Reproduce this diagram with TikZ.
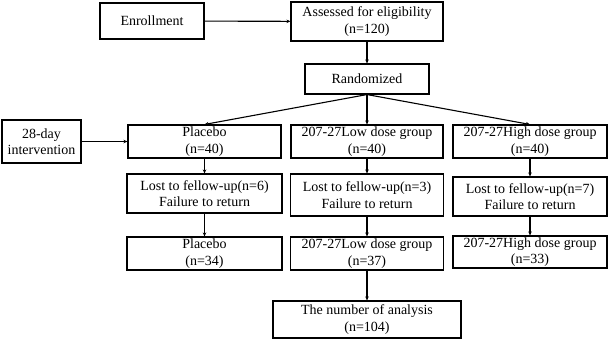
\documentclass[tikz,border=0pt]{standalone}
\usepackage{fontspec}
\setmainfont{Liberation Serif}
\usetikzlibrary{arrows.meta}
\tikzset{
  box/.style={draw, line width=1.1pt, align=center, inner sep=1pt, font=\fontsize{14}{16.5}\selectfont},
  arr/.style={-{Stealth[length=4pt,width=3.5pt]}, line width=1.1pt}
}
\begin{document}
\begin{tikzpicture}[x=1pt,y=-1pt]
        \useasboundingbox (0,0) rectangle (609,340);
        \node[box, minimum width=104pt, minimum height=36pt] (enroll) at (152,21) {Enrollment};
        \node[box, minimum width=152pt, minimum height=39pt] (assess) at (367,21.5) {Assessed for eligibility\\(n=120)};
        \node[box, minimum width=124pt, minimum height=30pt] (rand) at (367,79) {Randomized};
        \node[box, minimum width=79pt, minimum height=43pt] (day) at (41.5,141.5) {28-day\\intervention};
        \node[box, minimum width=153pt, minimum height=33pt] (plac) at (204.5,141.5) {Placebo\\(n=40)};
        \node[box, minimum width=152pt, minimum height=33pt] (low) at (367,141.5) {207-27Low dose group\\(n=40)};
        \node[box, minimum width=154pt, minimum height=33pt] (high) at (530,141.5) {207-27High dose group\\(n=40)};
        \node[box, minimum width=155pt, minimum height=39pt] (lostp) at (204.5,193.5) {Lost to fellow-up(n=6)\\Failure to return};
        \node[box, minimum width=153pt, minimum height=42pt] (lostl) at (367,195) {Lost to fellow-up(n=3)\\Failure to return};
        \node[box, minimum width=154pt, minimum height=39pt] (losth) at (530,196.5) {Lost to fellow-up(n=7)\\Failure to return};
        \node[box, minimum width=155pt, minimum height=33pt] (finp) at (204.5,253.5) {Placebo\\(n=34)};
        \node[box, minimum width=153pt, minimum height=33pt] (finl) at (367,253.5) {207-27Low dose group\\(n=37)};
        \node[box, minimum width=154pt, minimum height=32pt] (finh) at (530,252) {207-27High dose group\\(n=33)};
        \node[box, minimum width=188pt, minimum height=37pt] (ana) at (367,319.5) {The number of analysis\\(n=104)};

        \draw[arr] (enroll) -- (assess);
        \draw[arr] (assess) -- (rand);
        \draw[arr] (rand.south) -- (plac.north);
        \draw[arr] (rand) -- (low);
        \draw[arr] (rand.south) -- (high.north);
        \draw[arr] (day) -- (plac);
        \draw[arr] (plac) -- (lostp);
        \draw[arr] (low) -- (lostl);
        \draw[arr] (high) -- (losth);
        \draw[arr] (lostp) -- (finp);
        \draw[arr] (lostl) -- (finl);
        \draw[arr] (losth) -- (finh);
        \draw[arr] (finl) -- (ana);
    \end{tikzpicture}
\end{document}
